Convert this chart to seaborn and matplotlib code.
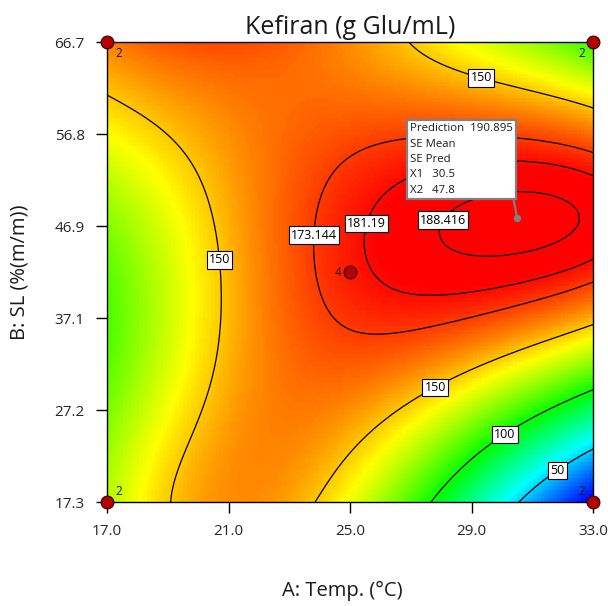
import numpy as np
import matplotlib
matplotlib.use("Agg")
import matplotlib.pyplot as plt
from matplotlib.colors import LinearSegmentedColormap
from numpy.polynomial import legendre as L
import seaborn as sns
import pandas as pd

# ---------------- data ----------------
# points (Temp °C, SL %)
c50_temp = [30.60, 31.75, 33.00]
c50_sl = [17.30, 20.20, 22.88]
c100_temp = [27.60, 28.85, 30.04, 31.58, 33.00]
c100_sl = [17.30, 21.81, 24.82, 27.50, 29.54]
c150_temp = [17.00, 17.86, 18.98, 19.50, 20.06, 20.49, 20.65, 20.72, 20.72, 20.49, 20.06, 19.50, 18.84,
             23.78, 25.00, 26.65, 27.80, 28.62, 30.04, 31.02, 33.00,
             26.09, 27.30, 29.28, 31.16, 33.00]
c150_sl = [61.55, 59.72, 57.57, 55.42, 52.63, 46.83, 43.29, 38.99, 37.92, 31.48, 25.03, 21.06, 17.30,
           17.30, 22.13, 26.64, 29.65, 30.40, 32.55, 34.16, 36.52,
           66.70, 65.30, 62.83, 60.90, 59.29]
c173_temp = [24.08, 24.11, 24.44, 25.00, 25.89, 26.74, 30.50, 31.68, 33.00,
             23.91, 24.84, 25.23, 26.32, 27.73, 29.94, 31.58, 33.00]
c173_sl = [45.11, 49.73, 52.63, 55.42, 56.71, 56.93, 56.18, 55.64, 54.89,
           41.14, 37.60, 35.77, 35.02, 35.56, 37.92, 39.53, 40.93]
c181_temp = [25.79, 25.76, 25.99, 26.65, 30.50, 31.68, 33.00,
             25.89, 26.22, 27.21, 28.85, 31.02, 33.00]
c181_sl = [47.37, 44.69, 49.73, 52.10, 53.81, 53.49, 52.95,
           42.21, 40.82, 39.42, 39.85, 41.46, 43.07]
c188_temp = [28.13, 28.29, 29.05, 29.94, 31.68, 32.80, 28.13, 28.52, 29.51, 31.02, 32.67]
c188_sl = [45.44, 47.91, 49.73, 50.48, 50.05, 48.98, 46.51, 44.69, 43.83, 44.36, 46.30]

# values estimated from the colour at some spots
spot_temp = [17.0, 21.0, 23.0, 30.2, 31.35, 33.0, 33.0, 17.0, 17.0, 17.0, 21.0, 33.0,
             25.0, 22.3, 25.0, 21.0, 33.0]
spot_sl = [66.7, 66.7, 66.7, 66.7, 66.7, 66.7, 63.0, 52.0, 40.0, 17.3, 17.3, 17.3,
           42.0, 42.0, 61.0, 58.0, 47.6]
spot_val = [164, 170, 170, 140, 125, 105, 130, 132, 114, 126, 160, 12,
            177, 163, 170, 166, 188.8]

# predicted optimum shown in the flag
pred_temp, pred_sl, pred_value = 30.5, 47.8, 190.895

# design points and their replicate counts
design_temp = [17.0, 17.0, 33.0, 33.0, 25.0]
design_sl = [17.3, 66.7, 17.3, 66.7, 42.0]
design_reps = ["2", "2", "2", "2", "4"]

contour_levels = [50, 100, 150, 173.144, 181.19, 188.416]
contour_texts = ["50", "100", "150", "173.144", "181.19", "188.416"]
label_temp = [31.75, 30.04, 27.76, 20.65, 29.35, 24.30, 25.85, 28.00]
label_sl = [21.06, 24.82, 29.87, 43.29, 63.16, 45.87, 46.94, 47.69]

x_tick_labels = ["17.0", "21.0", "25.0", "29.0", "33.0"]
y_tick_labels = ["17.3", "27.2", "37.1", "46.9", "56.8", "66.7"]

# ---------------- response surface model (least squares in coded units) ----------------
T_LO, T_HI = 17.0, 33.0
S_LO, S_HI = 17.3, 66.7
DEG = 5

rows = []
for lev, tt, ss in [(50, c50_temp, c50_sl), (100, c100_temp, c100_sl), (150, c150_temp, c150_sl),
                    (173.144, c173_temp, c173_sl), (181.19, c181_temp, c181_sl),
                    (188.416, c188_temp, c188_sl)]:
    rows += [(t, s, lev, 1.0) for t, s in zip(tt, ss)]
rows += [(t, s, v, 0.6) for t, s, v in zip(spot_temp, spot_sl, spot_val)]
rows.append((pred_temp, pred_sl, pred_value, 3.0))
readings = pd.DataFrame(rows, columns=["temp", "sl", "kefiran", "w"])


def coded(t, s):
    return (np.asarray(t) - (T_LO + T_HI) / 2) / ((T_HI - T_LO) / 2), \
           (np.asarray(s) - (S_LO + S_HI) / 2) / ((S_HI - S_LO) / 2)


PAIRS = [(i, j) for i in range(DEG + 1) for j in range(DEG + 1 - i)]


def basis(a, b):
    cols = []
    for i, j in PAIRS:
        ci = np.zeros(i + 1); ci[i] = 1
        cj = np.zeros(j + 1); cj[j] = 1
        cols.append(L.legval(a, ci) * L.legval(b, cj))
    return np.stack(cols, axis=-1)


ra, rb = coded(readings["temp"].values, readings["sl"].values)
X = basis(ra, rb) * readings["w"].values[:, None]
y = readings["kefiran"].values * readings["w"].values
lam = 2e-3
A = np.vstack([X, np.sqrt(lam) * np.eye(X.shape[1])])
yy = np.concatenate([y, np.zeros(X.shape[1])])
coef, *_ = np.linalg.lstsq(A, yy, rcond=None)


def surface(t, s):
    a, b = coded(t, s)
    return basis(a, b) @ coef


# ---------------- figure ----------------
sns.set_theme(style="white")
plt.rcParams["font.family"] = ["Open Sans", "DejaVu Sans"]

fig = plt.figure(figsize=(6.08, 6.06), dpi=100)
ax = fig.add_axes([107 / 608, 1 - 502 / 606, 486 / 608, 460 / 606])

cmap = LinearSegmentedColormap.from_list(
    "de", ["#0000ff", "#00ffff", "#00ff00", "#ffff00", "#ff0000"])

# coarse coloured cells (blocky like the original)
nx, ny = 122, 115
te = np.linspace(T_LO, T_HI, nx + 1)
se = np.linspace(S_LO, S_HI, ny + 1)
TC, SC = np.meshgrid((te[:-1] + te[1:]) / 2, (se[:-1] + se[1:]) / 2)
ZC = surface(TC, SC)
ax.pcolormesh(te, se, ZC, cmap=cmap, vmin=ZC.min(), vmax=183.0,
              shading="flat", rasterized=True)

# fine contours
TF, SF = np.meshgrid(np.linspace(T_LO, T_HI, 400), np.linspace(S_LO, S_HI, 400))
ZF = surface(TF, SF)
cs = ax.contour(TF, SF, ZF, levels=contour_levels, colors="black", linewidths=0.9)
fmt = dict(zip(cs.levels, contour_texts))
labels = ax.clabel(cs, fmt=fmt, fontsize=9, inline=False,
                   manual=list(zip(label_temp, label_sl)))
for t in labels:
    t.set_rotation(0)
    t.set_bbox(dict(boxstyle="square,pad=0.18", fc="white", ec="black", lw=0.8))
    t.set_zorder(6)

# design points
sns.scatterplot(x=design_temp, y=design_sl, ax=ax, color="#b50000",
                edgecolor="#300000", linewidth=0.8, s=85, zorder=8, legend=False)
ax.collections[-1].set_clip_on(False)
offsets = [(8, 4, "left", "bottom"), (8, -5, "left", "top"),
           (-8, 4, "right", "bottom"), (-8, -5, "right", "top"), (-9, 0, "right", "center")]
for x, yv, r, (dx, dy, ha, va) in zip(design_temp, design_sl, design_reps, offsets):
    ax.annotate(r, (x, yv), xytext=(dx * 0.72, dy * 0.72), textcoords="offset points",
                ha=ha, va=va, fontsize=8.5, color="#1a1a1a", zorder=9)

# prediction flag
ax.scatter([pred_temp], [pred_sl], s=18, color="#808080", zorder=9)
ax.annotate(f"Prediction  {pred_value:.3f}\nSE Mean\nSE Pred\nX1   {pred_temp}\nX2   {pred_sl}",
            (pred_temp, pred_sl), xytext=(-3, 16), textcoords="offset points",
            ha="right", va="bottom", multialignment="left",
            fontsize=8.2, linespacing=1.55, zorder=10, color="#1a1a1a",
            bbox=dict(boxstyle="square,pad=0.3", fc="white", ec="#808080", lw=1.6),
            arrowprops=dict(arrowstyle="-", color="#808080", lw=1.6,
                            shrinkA=0, shrinkB=0, relpos=(1.0, 0.0)))

ax.set_xlim(T_LO, T_HI)
ax.set_ylim(S_LO, S_HI)
ax.set_xticks(np.linspace(T_LO, T_HI, len(x_tick_labels)))
ax.set_xticklabels(x_tick_labels)
ax.set_yticks(np.linspace(S_LO, S_HI, len(y_tick_labels)))
ax.set_yticklabels(y_tick_labels)
ax.tick_params(axis="both", direction="out", length=8, width=1, color="black",
               labelsize=11, pad=8, bottom=True, left=True)
for sp in ax.spines.values():
    sp.set_color("black")
    sp.set_linewidth(1.0)

ax.set_title("Kefiran (g Glu/mL)", fontsize=18, pad=6, color="#1a1a1a")
ax.set_xlabel("A: Temp. (°C)", fontsize=14.5, color="#1a1a1a")
ax.set_ylabel("B: SL (%(m/m))", fontsize=14.5, color="#1a1a1a")
ax.xaxis.set_label_coords((342 - 107) / 486, -(581 - 502) / 460)
ax.yaxis.set_label_coords(-(107 - 30) / 486, 0.5)

fig.savefig("out.png", dpi=100)
